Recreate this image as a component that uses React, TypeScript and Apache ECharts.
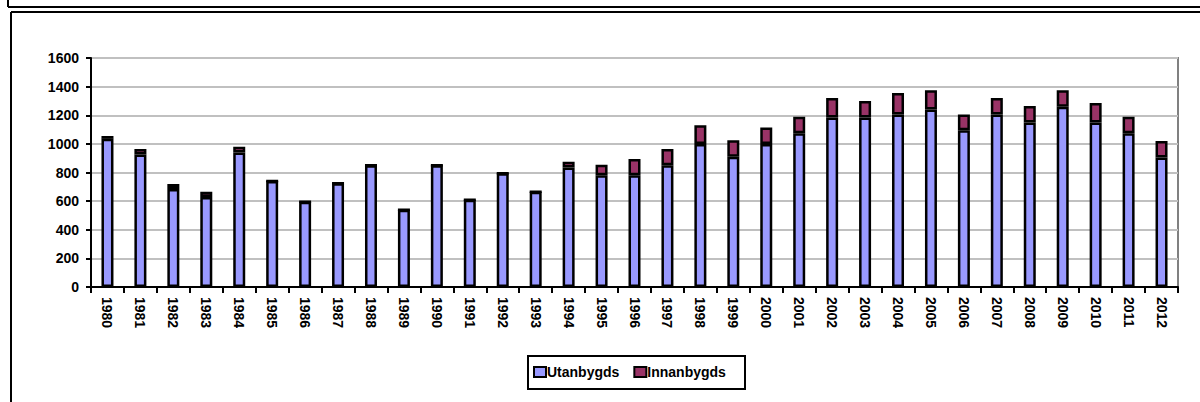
import React, { useEffect, useRef } from "react";
import * as echarts from "echarts";

const years = [
  "1980", "1981", "1982", "1983", "1984", "1985", "1986", "1987", "1988", "1989",
  "1990", "1991", "1992", "1993", "1994", "1995", "1996", "1997", "1998", "1999",
  "2000", "2001", "2002", "2003", "2004", "2005", "2006", "2007", "2008", "2009",
  "2010", "2011", "2012",
];
const utanbygds = [
  1035, 925, 685, 628, 940, 740, 595, 725, 850, 540,
  850, 610, 795, 665, 835, 780, 780, 850, 1000, 910,
  1000, 1075, 1185, 1185, 1205, 1240, 1095, 1205, 1150, 1260,
  1150, 1075, 905,
];
const innanbygds = [
  20, 40, 35, 38, 40, 0, 0, 0, 0, 0,
  0, 0, 0, 0, 40, 75, 115, 115, 130, 115,
  115, 115, 135, 115, 150, 135, 110, 115, 115, 115,
  135, 115, 115,
];
const yTicks = { min: 0, max: 1600, interval: 200 };

const FONT = "'Liberation Sans', Arial, sans-serif";

export default function App() {
  const ref = useRef<HTMLDivElement>(null);
  useEffect(() => {
    if (!ref.current) return;
    const chart = echarts.init(ref.current, null, { renderer: "svg" });
    chart.setOption({
      animation: false,
      backgroundColor: "#fff",
      grid: {
        left: 91,
        right: 22,
        top: 58,
        bottom: 115,
        show: true,
        borderColor: "#808080",
        borderWidth: 2,
        backgroundColor: "transparent",
      },
      legend: {
        left: 533,
        top: 365,
        padding: 0,
        itemWidth: 12,
        itemHeight: 10,
        itemGap: 14,
        icon: "rect",
        itemStyle: { borderColor: "#000", borderWidth: 2 },
        textStyle: { fontFamily: FONT, fontWeight: "bold", fontSize: 14, color: "#000", padding: [0, 0, 0, -4] },
        data: ["Utanbygds", "Innanbygds"],
      },
      xAxis: {
        type: "category",
        data: years,
        axisLine: { lineStyle: { color: "#000", width: 2 } },
        axisTick: { show: true, length: 6, lineStyle: { color: "#000", width: 2 } },
        axisLabel: {
          rotate: -90,
          margin: 10,
          fontFamily: FONT,
          fontWeight: "bold",
          fontSize: 14,
          color: "#000",
          interval: 0,
        },
      },
      yAxis: {
        type: "value",
        min: yTicks.min,
        max: yTicks.max,
        interval: yTicks.interval,
        axisLine: { show: true, lineStyle: { color: "#000", width: 2 } },
        axisTick: { show: true, length: 5, lineStyle: { color: "#000", width: 2 } },
        axisLabel: {
          margin: 12,
          fontFamily: FONT,
          fontWeight: "bold",
          fontSize: 14,
          color: "#000",
          formatter: (v: number) => String(v),
        },
        splitLine: { lineStyle: { color: "#c0c0c0", width: 2 } },
      },
      series: [
        {
          name: "Utanbygds",
          type: "bar",
          stack: "total",
          barWidth: 12,
          data: utanbygds,
          itemStyle: { color: "#9999ff", borderColor: "#000", borderWidth: 2.5 },
        },
        {
          name: "Innanbygds",
          type: "bar",
          stack: "total",
          barWidth: 12,
          data: innanbygds,
          itemStyle: { color: "#993366", borderColor: "#000", borderWidth: 2.5 },
        },
      ],
      graphic: [
        { type: "line", shape: { x1: 8, y1: 0, x2: 8, y2: 7 }, style: { stroke: "#000", lineWidth: 2 } },
        { type: "line", shape: { x1: 8, y1: 7, x2: 1200, y2: 7 }, style: { stroke: "#000", lineWidth: 2 } },
        { type: "line", shape: { x1: 11, y1: 12, x2: 1200, y2: 12 }, style: { stroke: "#000", lineWidth: 2 } },
        { type: "line", shape: { x1: 11, y1: 12, x2: 11, y2: 402 }, style: { stroke: "#000", lineWidth: 2 } },
        {
          type: "rect",
          shape: { x: 528, y: 356, width: 217, height: 33 },
          style: { fill: "none", stroke: "#000", lineWidth: 2 },
        },
      ],
    });
    return () => chart.dispose();
  }, []);
  return (
    <div
      ref={ref}
      style={{ position: "absolute", left: 0, top: 0, width: 1200, height: 402 }}
    />
  );
}
